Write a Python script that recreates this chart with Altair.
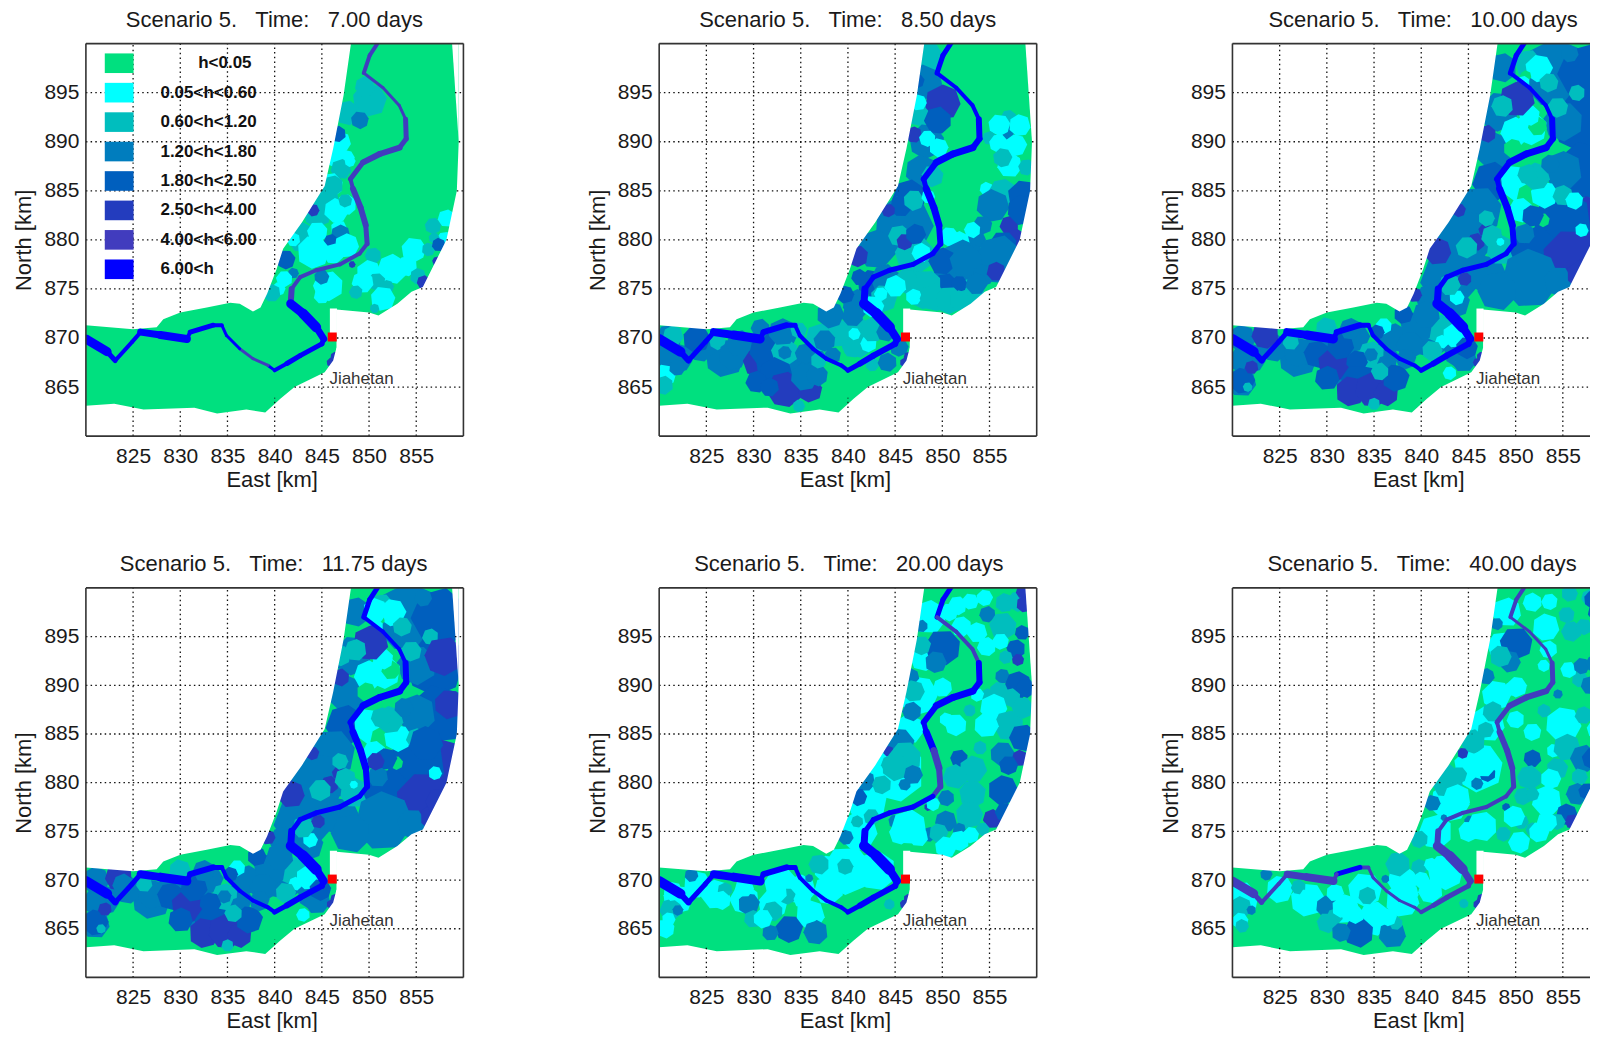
import altair as alt
import pandas as pd

TITLES = ["7.00", "8.50", "10.00", "11.75", "20.00", "40.00"]
TITLE_DX = [40, 40, 36, 34, 35, 35]
CLASS_COLORS = ["#00E07F", "#00FFFF", "#00BEBE", "#007DBE", "#005FBE", "#233CBE", "#413CBE", "#0000FF"]
LEGEND_LABELS = ["h<0.05", "0.05<h<0.60", "0.60<h<1.20", "1.20<h<1.80", "1.80<h<2.50", "2.50<h<4.00", "4.00<h<6.00", "6.00<h"]
TICKS_X = [825, 830, 835, 840, 845, 850, 855]
TICKS_Y = [865, 870, 875, 880, 885, 890, 895]
CELL_SHAPE = "M-1,-0.3L-0.45,-0.95L0.55,-0.85L1,-0.1L0.7,0.75L-0.25,1L-0.9,0.55Z"

RIVER = [(850.95,900.1),(850.07,898.8),(849.44,897),(851.48,895.5),(853.2,893.7),(853.87,892.3),(853.94,890.3),(853.24,889.4),
 (851.13,888.75),(849.37,887.9),(848.03,886.2),(848.3,885.2),(849.1,883.3),(849.65,881.5),(849.8,879.6),(849,878.6),(846.9,877.5),
 (844.4,876.9),(842.7,876.2),(841.8,875),(841.7,873.5),(843,872.5),(844.4,871.1),(845.2,869.9),(845,869.4),(842.7,868.2),(841.3,867.4),
 (840,866.7),(839.3,867.2),(837.7,867.9),(836.3,868.9),(834.9,870.25),(834.4,871.3),(833.5,871.3),(831.05,870.6),(830.7,869.9),
 (827.9,870.3),(825.8,870.6),(824.9,869.6),(823.1,867.7),(822.25,868.6),(820,869.9)]
RIVER_WIDTH = [4,4,3,3,3,5,5,6,6,5,4,6,6,5,4,4,4,4,4,6,9,10,7,5,5,5,4,3,3,3,3,3,4,5,4,8,7,4,4,5,9]
RIVER_EXTRA = [0,1,1,1,1,0]
RIVER_CLASS = [
 "66666666666666666666777777776677777777777",
 "77777777777777777777777777777777777777777",
 "77777777777777777777777777777777777777777",
 "77777777777777777777777777777777777777777",
 "77666777777766677777777777777777777777777",
 "66666666666666666666666666666666676666666",
]

# white areas outside the flooded plain: group, x, lower, upper
MASK = [
 ("a",820,871.3,900),("a",825,870.9,900),("a",827.5,871.1,900),("a",828.2,871.9,900),("a",830,872.6,900),("a",832.8,873.1,900),
 ("a",835.3,873.6,900),("a",836.3,873.5,900),("a",837.7,872.7,900),("a",838.5,873.1,900),("a",839.2,874.5,900),("a",840.2,877,900),
 ("a",840.9,879.1,900),("a",842.9,881.8,900),("a",845.3,885.5,900),("a",846.2,889.3,900),("a",847.3,894.7,900),("a",848.1,900.1,900.1),
 ("b",820,860,863.1),("b",823,860,863.3),("b",826.1,860,862.7),("b",831.5,860,862.9),("b",833.9,860,862.3),("b",837,860,862.7),("b",839,860,862.4),
 ("b",840.6,860,863.8),("b",842.1,860,865),("b",845.3,860,866.5),("b",846.2,860,867.7),("b",846.55,860,869),("b",846.7,860,869),
 ("c",846.55,860,872.9),("c",850,860,872.6),("c",851,860,872.3),("c",853,860,873.5),("c",854.5,860,874.7),("c",855.7,860,875.2),
 ("c",858.2,860,880),("c",859.3,860,885),("c",859.5,860,890),("c",859.5001,860,900),("c",860,860,900),
 ("d",858.8,900,900),("d",859.5,890,900),
 ("e",845.85,870.4,873),("e",846.6,870.4,873),
]
GRID_V = [(825,860,863.1),(825,871,900),(830,860,862.8),(830,872.6,900),(835,860,862.4),(835,873.6,900),(840,860,863.9),(840,876.5,900),
          (845,860,866.4),(845,885,900),(850,860,872.6),(855,860,874.8)]
GRID_H = [(895,820,847.4),(895,859.1,860),(890,820,846.2),(890,859.5,860),(885,820,845.4),(885,859.3,860),(880,820,842.3),(880,858.2,860),
          (875,820,839.6),(875,855.5,860),(870,846.6,860),(865,842.1,860)]

SHARED = [(846,867.5,.7,5),(846.4,868.1,.7,5)]
P1 = [(850.1,894.25,2.5,2),(849.6,895.6,1.5,2),(847.7,892.9,1.8,2),(849,892.2,1.3,3),(847,890,1.5,1),(846.7,890.8,1.2,4),(846.4,888.6,1.8,1),
 (847.6,888.3,1.2,1),(847,887.2,1.5,2),(845.9,885.6,1.8,1),(848,888,.8,1),(845.2,884,2.4,2),(846.2,885.5,1.5,2),(844.5,882.6,2,2),(846.5,883,1.8,1),
 (847.6,883.6,1.5,1),(847.5,884,1,2),(844.1,883,.9,5),(842.9,880.2,2.2,2),(844.5,880.8,1.5,1),(846.8,881.2,1.2,1),(847,880.6,1.4,3),(846,879.8,1.1,4),
 (844.1,878.7,2.4,1),(847.6,879.4,1.8,1),(846.2,878.6,1.5,1),(841.2,878,1.4,4),(842,876.6,.8,3),(842,880,1,1),(841,876,1.2,1),(840.4,875,1,1),
 (839.7,874.6,1.3,2),(845.7,875.3,2.2,1),(845,876.2,1.1,3),(845,874.3,1.2,1),(850.4,878.4,1.2,2),(848.2,877.5,.5,5),(850,876.7,1.8,1),(852.5,877,2.2,1),
 (850.8,875.7,1.3,2),(851.9,875.2,1,2),(849.3,875.7,1.6,1),(848.6,874.7,1,2),(851.5,874,1.8,1),(850.6,873,.7,2),(854,877.3,1.5,1),(854.7,879,1.8,1),
 (855.2,876.3,1.2,2),(855.8,875.7,1,5),(856.8,881.4,1.2,2),(856.3,879,1,2),(858.2,882.2,1.3,1),(858,880,1.2,1),(856.9,880.2,.8,2),(857.4,879.5,1,4),(857.2,877.8,.7,5)]
P2 = [(827,868,4,3),(832,867,4,3),(835,866,4,3),(836,868,3,3),(822,868,3,3),(824.5,869,2,3),(829,869,3,3),(833,870,3,3),(837,870,3,2),(841,870,4,2),
 (848.4,898.6,2.4,2),(848.2,896,2.6,3),(847.6,893,3,2),(848.3,890,3.6,3),(847.8,887,3.4,3),(846.5,884.5,3.4,4),(849,886.5,1.6,2),(846,881.5,6,3),
 (843,879,4,3),(847,878.5,4,2),(842.5,875.5,3,4),(841,873.5,3,3),(844,876,3,3),(843.8,874,2,2),
 (850,894,2.6,5),(849.5,892.2,2,4),(847.4,896.2,1,4),(847.5,894,1.2,1),(847,890.7,1.2,5),(848.4,890.3,1.2,1),(849.6,889.4,1.4,1),(845.6,883.5,1.6,4),(844.3,883,1,5),
 (847,884,1.5,2),(848.5,884.4,1,1),(845.4,880.4,1.6,2),(846,879.8,1.2,5),(847.2,880.6,1.5,4),(847.8,878.7,1.4,1),(841,878.3,1.6,5),(839.7,874.4,1.3,4),(841.2,876.2,1.2,4),
 (843.5,874.5,1,1),(842.7,873.2,1.6,1),
 (856.8,890.9,1.1,3),(857,892.4,1.2,2),(856,891.7,1.6,1),(858.2,891.7,1.6,1),(855,890.4,1,2),(856,889.8,1.4,1),(857.8,889.6,1.6,1),(857.1,887.6,1.8,1),(858.9,887.4,1.2,2),
 (856.4,888.4,1.4,2),(854.7,885.2,1,1),(856.4,884.8,2,2),(858.5,884.5,2.2,4),(855.3,883.5,2.4,3),(857.1,881.5,1.4,5),(854.3,881.5,1.4,3),(858.5,883,2.2,4),(857.8,879.8,1.8,5),
 (856.4,879.5,2,4),(853.6,880.1,1.4,3),(851.8,879.8,1.6,1),(853.2,881,1.2,1),(850.7,880.3,1.4,1),
 (852,877,6,3),(856,878,5,3),(848,875,4,2),(853,874.5,3,2),(850,877.8,2,4),(852.5,877.8,2.4,3),(854.3,876.4,1.6,3),(855.7,876.8,1.4,5),(850.4,875.5,1.6,4),(851.8,875.5,1.2,4),
 (853.6,875.5,1.6,3),(848.4,875.5,2,2),(846.2,875.8,1.8,2),(847,874.2,1.2,1),(849.1,874.1,2,2),(850.7,873.8,2,2),(851.8,873.8,1.5,2),(845,875.3,1.6,1),
 (821,870,2,3),(824,869.9,2,4),(821.5,870.2,1.5,2),(821,868.3,2,3),(820.6,866.2,1.6,1),(821.9,867,1.2,3),(820.5,865.2,1.4,2),(826.2,869.6,1.2,2),
 (827.8,868.2,3,3),(828.5,869.4,2,3),(830.3,867.5,2,5),(831.7,867.4,2,4),(831.4,868.8,2.5,4),(833.3,868.5,2,2),(833.3,868.5,1,3),(832.3,866.3,2.5,4),(833.3,864.8,2.6,5),
 (836,864.7,1.8,5),(835.4,866,2,3),(830.3,865.5,1.6,4),(836.7,866.2,1.6,3),(834.8,863.1,.9,2),(831.7,865,1.4,4),(835.5,868.4,1.5,3),(836.9,867.7,1.2,2),
 (833,870.6,2,3),(830.7,871,1.4,3),(834.8,870.8,1.2,2),
 (839,870.5,3,2),(840.5,869,1.5,2),(837.5,869.7,1.6,3),(838.1,872.4,2,3),(840.5,872.3,1.6,3),(842.2,869.4,1.2,1),(840.7,870.4,.9,1),(842.6,870.8,1.8,2),(844,870.6,1.4,3),
 (845.4,869.1,1.4,3),(842.6,867.3,1,2),(844.2,867.5,1.4,3),(838.4,868.2,1.2,3)]
DARK = [(827,868,4,3),(832,867,4,3),(835,866,4,4),(836,868,3,3),(822,868,3,3),(824.5,869,2,3),(829,869,3,3),(833,870,3,3),(837,870,3,3),(841,870,4,3),(844,868.5,3,3),(821,865.5,3,3),
 (848.6,897.5,3,3),(848.2,893,4,3),(847.8,889,4,3),(847.5,886,4,4),(846,883,5,3),(844.5,880,6,3),(843,876,6,3),(847,880,3,3),(847,876.5,4,3),(848.5,879,3,2),
 (841,874,3,3),(843.6,873.5,3,3),(854,897,7,3),(857.5,897,6,4),(857,892,6,4),(857.5,887,6,4),(855,887,4,3),(855,892,4,3),(858,882,5,5),(855,882,6,4),(852,879,5,4),(856,878,6,5),
 (851.5,876,6,3),(848,874.8,4,3),(854.5,875.8,3,3),(857,876.5,3,5),
 (850,891,3,1),(851.6,891.3,2.4,1),(849.7,889.3,1.4,0),(852.3,891.6,1.4,0),(851.5,892.7,1.5,1),
 (850.3,885.8,2.6,1),(851.6,884.4,2,0),(850.5,883,1.8,1),(853,884.6,2,1),(852.2,886.5,2,2),(851.3,886.7,1.5,2),(852.9,882,1,0),(851.8,882.4,1.6,4),(850.9,880.6,1.5,3),
 (851.3,898,2,2),(852.5,897.5,2,1),(851.1,896.7,.8,0),(850.8,896,1,1),(853.5,896,1.4,2),(855.7,899,1.3,3),(856.5,895,1.2,2),(854.5,893.5,1.5,2),(853.7,887.7,1.4,3),
 (855,884.5,1.5,2),(856.2,884,1.3,1),(857,881,1,1),(850.2,894.4,3.6,5),(847,890.8,1.3,5),(844,883,1,5),(841.7,878.8,2,5),(845.8,879.8,1.3,5),(846.8,881,1,5),(839.3,874.4,1.1,5),
 (848.6,893.6,1.6,2),(844.8,879.2,1.6,2),(846.9,882.2,1.2,2),(847.5,880.4,1.6,2),(848.4,879.8,.6,1),(843.8,874.1,1.1,1),(843,875.4,1.6,2),(844.6,876,1,5),
 (841.9,871,3,2),(843.6,870.3,1.8,1),(842.2,869.6,1,1),(839.5,871,2.4,3),(838.1,872.4,1.4,4),(840.5,872.4,2,3),(838.8,869.3,2,3),(841.2,868.7,1.5,2),(844.5,867.9,2,3),(843,866.4,1,1),
 (844.8,869,1.6,4),
 (821,870,2,3),(823.5,870.3,2,5),(821.5,867.8,2.4,3),(821,865.6,1.9,4),(822,867,1,5),(821.6,865,.7,2),(827,868.6,3,3),(826.2,869.6,1.2,2),(829,868.3,2,4),(830.9,867.3,2.6,5),(831.4,869.2,2,4),
 (834.7,868.3,2,2),(834.7,868.3,1,3),(833.2,867.6,1.6,4),(836.3,867.2,1.5,3),(833.2,865.6,2.4,4),(832.5,864.6,2.2,5),(834.9,864.8,2.6,5),(836.3,864.3,1.8,5),(837.3,865.9,2,4),(830,865.9,1.8,4),
 (835.6,866.6,1.3,2),(838.4,867.9,1.5,3),(830,871,1.6,2),(832.5,870.9,1.6,3),(836,871.2,1.2,1),(835.3,870.6,1.1,4),(835,863.3,.9,2)]
P4_EXTRA = [(858,893,4,5),(858.5,888,3,5),(856,884,2.5,4),(857.5,878,3,5),(850.7,882.2,1.3,5),(850.7,897.7,1.8,1),(824,869.5,1.6,3),(847,893,1.5,2)]
P5 = [(822,868,3,1),(826,868.5,3,1),(829,868,3,1),(832,867.5,3,1),(836,866.5,3,1),(838,869,3,1),(833,869.5,2.5,1),(824,869.5,2,1),
 (848.5,897,3.5,1),(848,893,3,1),(847.5,889,4,1),(846.5,885.5,3,1),(845,881,6,1),(842,878,4,1),(841,875,4,1),(843,871,4,1),(840,871,5,1),(838,871,3,1),(835,869,3,1),
 (850,893.9,2.6,4),(849.3,892.4,1.6,3),(846.7,890.9,1.2,3),(846.8,887.3,1.4,3),(845.3,883.9,2.4,3),(844.3,883.2,.8,5),(847.8,896.1,.9,3),(847.8,894.1,1.4,2),(847,889.4,1.6,2),
 (844.6,881.8,1.5,2),(846,882.5,2.4,2),(845,881.6,2,2),(841.8,880.2,1.5,3),(843.6,879.8,1.4,2),(841.1,878.5,1.3,4),(846.9,880.8,1.4,3),(846,879.8,.9,3),(842.5,876.5,1.2,2),(839.8,874.4,1.1,3),
 (841,876,.9,2),(845,876,1,3),(848.5,877.5,.6,5),(850,889.8,1.4,1),(851.6,898.2,1.4,1),(853,898.6,1.2,1),(853.7,895.4,1.5,1),(852,896,1.5,1),(850.7,897.5,1.3,1),(856.6,898.5,1.4,2),
 (854.8,897.3,1.2,3),(858,898.6,1.5,2),(858.7,898.3,1.2,5),(858.5,899.6,1,5),(856.4,896.1,2,2),(854.5,899,1.2,1),(858.5,895.4,1.1,4),(857.8,893.7,1.4,4),(858,892.6,.9,5),(856.7,892.9,1,2),
 (854.7,894,1.4,1),(856.2,894.5,1.2,1),(856.4,890.9,1.1,3),(858,890,2,4),(858.8,889.7,1.4,4),(856,889.4,1.4,2),(854.8,889,1,2),(857.3,888.7,1.4,2),(853.7,889,1,1),(855.4,887.7,2,1),(857,885.9,2.2,2),
 (858.5,887.7,1.6,2),(854.7,885.9,1.8,1),(852.9,887.4,.9,2),(851.4,885.9,1.6,1),(850.4,886.5,1,1),(854,883.6,1,2),(851.8,882.5,1.3,4),(856.4,882.9,1.8,3),(858.2,882.5,1.2,5),(858.5,884.6,2,4),
 (857,881.8,1.4,4),(853.3,881.4,2,2),(851.4,880.6,1.8,2),(853.2,878.8,2,2),(856.4,879.2,2.2,4),(855.3,876.3,1.4,5),(856.6,877,1.4,4),(852.9,876.7,2,2),(850.4,876,1.6,3),(850.4,878.4,1.2,3),
 (849,877.8,1,1),(851.8,875.2,1,3),(848.6,874.7,1.1,3),(854.3,875.2,1,2),(849.6,874.8,1.4,2),(846.4,875.4,2.6,1),(845.5,874.8,1.6,1),(850.4,873.4,1.6,1),(847.5,874.4,1.4,1),(851.8,874,1.5,1),(853,874.6,1.2,1),
 (823.4,870.5,1,3),(821.2,867,1.6,2),(822,866.9,.8,3),(821.5,868.8,1.4,1),(824,869,1.2,1),(820.6,865,1.4,1),(821,866,1,1),(827,869,1.1,2),(826.6,867.9,1.4,1),(829.5,867.5,1.6,3),(829.9,866,1.3,2),
 (832,866.8,1.5,2),(833.8,865,2,4),(831.8,864.6,1.2,3),(836.6,864.6,1.8,3),(833.6,868.3,1.2,2),(835.8,866.6,1.5,1),(832.5,868.8,1.5,1),(835.2,868,1.3,1),(831,866,1.4,1),(829,869.2,1.4,1),
 (836.9,871.6,1.5,2),(839.7,871.4,1.2,2),(835.9,870.2,.6,3),(844.4,867.5,.8,2)]
P6 = [(828,868,2.5,1),(832,867,3,1),(835,866,2.5,1),(834,869,2.5,1),(838,868,2.5,1),(838,870,3,1),(821,868,2.5,1),(825,869,2,1),
 (849,897.5,3,1),(848.5,894,3,1),(848,889,3,1),(847,886,2.6,1),(849.5,889.6,1,1),(846,881.5,5,1),(843,878,4,1),(841.5,875,3.5,1),
 (850.1,894.3,2.4,4),(849.4,892.4,1.6,3),(846.9,890.9,1.2,3),(848,896.3,.9,3),(848.4,893,1.6,2),(847.6,887.3,1.5,2),(845.5,884.2,1.8,2),(844.4,883,.8,5),(846.8,885.4,1.2,2),
 (842.7,880.2,2.4,2),(844,880.8,1.2,2),(841.2,877.9,1.2,3),(843.8,878.4,2,1),(847,880.9,1.2,4),(845.9,879.9,.9,3),(846.5,882,2,1),(839.8,874.2,1.3,2),(845.2,876,.9,3),(842.4,876.4,.5,3),
 (846.4,875.5,2.2,1),(845,875,1.5,1),(849,877.5,.6,4),
 (851.8,898.5,1.4,1),(855.4,897.2,1.2,2),(855.7,899.4,1.2,2),(857.8,899,1.2,2),(853.6,898.6,1.2,1),(858.2,898.8,1.3,4),(858.6,897.4,1.3,4),(855.9,895.5,1.5,2),(857.2,896,1.2,2),(853.2,896,2,1),
 (853.5,893.7,1.3,1),(853,892,.9,1),(856.8,890.6,1.2,2),(857.9,890,1.4,3),(855.6,891.6,1.2,1),(857,892,1.2,3),(854.5,889.1,.7,3),(858.3,892.2,1.2,3),(850.1,889.8,1.5,1),(853,887.4,1,2),(850,886.5,1.3,1),
 (851.8,885.2,1.3,1),(855.1,885.9,2.6,1),(857.2,886.9,1.3,2),(858.6,885.5,1.5,1),(854,883.3,1,1),(851.8,882.5,1.3,4),(851.5,880.5,1.8,2),(854.4,881.4,1.6,2),(855.4,883.6,2,2),(857.2,882.5,2,3),
 (858.2,882.5,1.6,4),(856.8,880.6,1.2,2),(856.5,878.8,1.6,3),(857.5,879.1,1.2,4),(853.7,880.4,1.5,1),(853.3,878.2,2.2,1),(850.8,878.6,1.3,2),(851.8,878.8,1,2),(855.4,876.7,1.6,4),(856,876,1.1,5),
 (854.4,876,1.2,2),(850.6,876,1.1,2),(851.8,875.2,1,2),(848.7,874.7,1.1,2),(849.8,876.5,1.6,1),(853.3,876,1.5,1),(850.4,873.9,1.6,1),(852.5,874.9,1.5,1),
 (839.8,871.3,1.2,2),(837.5,871.6,1.8,2),(837.5,869.6,1.1,1),(838.8,868.7,1.3,1),(841,868.9,1.8,1),(842.6,870.8,2.6,1),(840,870,1.2,1),(841,871.6,1,1),(844.5,867.6,.7,2),
 (823.6,870.6,.9,3),(820.9,867.2,1.6,2),(822,866.9,.7,3),(820.8,865.8,1.2,1),(821,865.3,1,2),(827,869.3,1.1,2),(828.1,868,1.6,1),(830.1,867.2,1.7,3),(830.8,866.2,1.2,2),(830,865.6,1.5,2),
 (831.6,867.2,1.5,1),(834.3,868.4,1.3,2),(833.4,864.6,2.2,4),(831.5,864.6,1.4,3),(836.9,864.4,2,3),(837.3,865.6,1,2),(836.5,866.2,1.3,1),(830.9,868.7,1.3,1),(836.2,870.1,.6,3),(833,866.4,1.3,1)]
PANELS = [P1, P2, DARK, DARK + P4_EXTRA, P5, P6]

WIDTHS = [378, 378, 358, 378, 378, 358]
HEIGHTS = [393, 393, 393, 390, 390, 390]
XMAX = [860, 860, 857.88, 860, 860, 857.88]
FONT = "Liberation Sans"
INK = "#1a1a1a"


def panel(i):
    w, h = WIDTHS[i], HEIGHTS[i]
    sx = alt.Scale(domain=[820, XMAX[i]], nice=False, zero=False)
    sy = alt.Scale(domain=[860, 900], nice=False, zero=False)
    x_axis = alt.Axis(values=TICKS_X, grid=False, ticks=False, domain=False, labelFont=FONT, labelFontSize=21, labelColor=INK,
                      labelPadding=9, title="East [km]", titleFont=FONT, titleFontSize=22, titleFontWeight="normal", titleColor=INK,
                      titlePadding=3, titleX=186, labelFlush=False)
    y_axis = alt.Axis(values=TICKS_Y, grid=False, ticks=False, domain=False, labelFont=FONT, labelFontSize=21, labelColor=INK,
                      labelPadding=7, title="North [km]", titleFont=FONT, titleFontSize=22, titleFontWeight="normal", titleColor=INK,
                      titlePadding=8)
    X = alt.X("x:Q", scale=sx, axis=x_axis)
    Y = alt.Y("y:Q", scale=sy, axis=y_axis)
    layers = []
    base = pd.DataFrame({"x": [820], "x2": [860], "y": [860], "y2": [900]})
    layers.append(alt.Chart(base).mark_rect(color=CLASS_COLORS[0], clip=True).encode(x=X, x2="x2:Q", y=Y, y2="y2:Q"))

    cells = pd.DataFrame(PANELS[i] + SHARED, columns=["x", "y", "d", "c"])
    cells["s"] = [((d * 1.4 if d < 3 else d) * 9.65) ** 2 for d in cells["d"]]
    cells["col"] = [CLASS_COLORS[c] for c in cells["c"]]
    cells["o"] = range(len(cells))
    cells["a"] = [(k * 67) % 360 for k in range(len(cells))]
    layers.append(alt.Chart(cells).mark_point(filled=True, opacity=1, shape=CELL_SHAPE, strokeWidth=0, clip=True).encode(
        x=X, y=Y, size=alt.Size("s:Q", scale=None), color=alt.Color("col:N", scale=None), order="o:Q",
        angle=alt.Angle("a:Q", scale=None)))

    mask = pd.DataFrame(MASK, columns=["g", "x", "y", "y2"])
    layers.append(alt.Chart(mask).mark_area(color="white", interpolate="linear", clip=True).encode(
        x=X, y=Y, y2="y2:Q", detail="g:N"))

    gv = pd.DataFrame(GRID_V, columns=["x", "y", "y2"])
    layers.append(alt.Chart(gv).mark_rule(color="#111", strokeDash=[1.5, 3.2], strokeWidth=1.3, clip=True).encode(x=X, y=Y, y2="y2:Q"))
    gh = pd.DataFrame(GRID_H, columns=["y", "x", "x2"])
    layers.append(alt.Chart(gh).mark_rule(color="#111", strokeDash=[1.5, 3.2], strokeWidth=1.3, clip=True).encode(y=Y, x=X, x2="x2:Q"))

    segs = pd.DataFrame({
        "x": [p[0] for p in RIVER[:-1]], "y": [p[1] for p in RIVER[:-1]],
        "x2": [p[0] for p in RIVER[1:]], "y2": [p[1] for p in RIVER[1:]],
        "w": [v + RIVER_EXTRA[i] for v in RIVER_WIDTH],
        "col": [CLASS_COLORS[int(c)] for c in RIVER_CLASS[i]],
    })
    layers.append(alt.Chart(segs).mark_rule(strokeCap="round", clip=True).encode(
        x=X, y=Y, x2="x2:Q", y2="y2:Q", size=alt.Size("w:Q", scale=None), color=alt.Color("col:N", scale=None)))

    town = pd.DataFrame({"x": [846.1], "y": [870.1], "label": ["Jiahetan"], "lx": [849.2], "ly": [865.8]})
    layers.append(alt.Chart(town).mark_square(color="#FF0000", size=81, opacity=1).encode(x=X, y=Y))
    layers.append(alt.Chart(town).mark_text(font=FONT, fontSize=17, color="#333").encode(
        x=alt.X("lx:Q", scale=sx, axis=x_axis), y=alt.Y("ly:Q", scale=sy, axis=y_axis), text="label:N"))

    if i == 0:
        leg = pd.DataFrame({"label": LEGEND_LABELS, "col": CLASS_COLORS})
        leg["y"] = [898 - 3 * k for k in range(8)]
        leg["yb"] = leg["y"] - 1
        leg["yt"] = leg["y"] + 1
        leg["x"] = 822
        leg["x2"] = 825.05
        leg["tx"] = [831.9] + [827.9] * 7
        layers.append(alt.Chart(leg).mark_rect().encode(
            x=X, x2="x2:Q", y=alt.Y("yb:Q", scale=sy, axis=y_axis), y2="yt:Q", color=alt.Color("col:N", scale=None)))
        layers.append(alt.Chart(leg).mark_text(align="left", font=FONT, fontSize=17, fontWeight="bold", color="#111").encode(
            x=alt.X("tx:Q", scale=sx, axis=x_axis), y=Y, text="label:N"))

    frame_color = "#333"
    layers.append(alt.Chart(base).mark_rule(color=frame_color, strokeWidth=1.6).encode(x=alt.value(0), x2=alt.value(w), y=alt.value(0)))
    layers.append(alt.Chart(base).mark_rule(color=frame_color, strokeWidth=1.6).encode(x=alt.value(0), x2=alt.value(w), y=alt.value(h)))
    layers.append(alt.Chart(base).mark_rule(color=frame_color, strokeWidth=1.6).encode(y=alt.value(0), y2=alt.value(h), x=alt.value(0)))
    if w == 378:
        layers.append(alt.Chart(base).mark_rule(color=frame_color, strokeWidth=1.6).encode(y=alt.value(0), y2=alt.value(h), x=alt.value(w)))

    txt = "Scenario 5.\u00a0\u00a0\u00a0Time:\u00a0\u00a0\u00a0" + TITLES[i] + " days"
    return alt.layer(*layers).properties(
        width=w, height=h,
        title=alt.TitleParams(text=txt, anchor="start", frame="group", dx=TITLE_DX[i], offset=11, font=FONT, fontSize=22, fontWeight="normal", color=INK),
    )


chart = alt.concat(
    *[panel(i) for i in range(6)], columns=3, spacing={"row": 152, "column": 196}, bounds="flush"
).properties(padding={"left": 4, "top": 0, "right": 0, "bottom": 0}).configure_view(stroke=None)

chart.save("out.html", embed_options={"renderer": "svg", "actions": False})
